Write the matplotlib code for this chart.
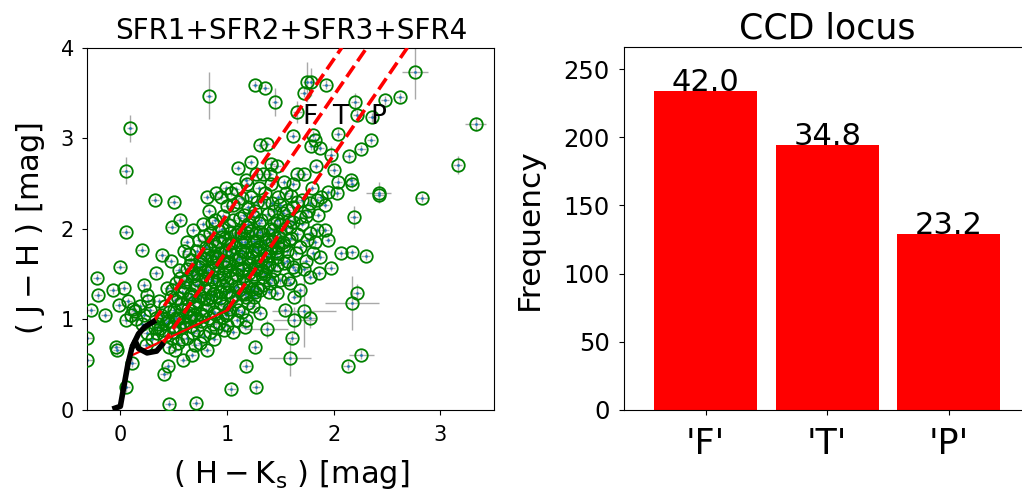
import matplotlib
matplotlib.use('Agg')
import matplotlib.pyplot as plt

plt.rcParams['mathtext.default'] = 'regular'

# ---------------- data: left panel (colour-colour diagram) ----------------
# isolated sources with individual errors
hk_sparse = [0.83, 0.09, 0.05, 1.26, 1.36, 1.45, 1.75, 1.79, 1.72, 1.93, 1.66, 2.76, 2.62, 2.48,
             2.20, 2.22, 2.36, 3.33, 3.16, 2.83, 2.42, 2.42, 2.04, 2.14, 2.26, 2.35, 1.97, 2.00,
             2.19, 2.16, 2.17, 2.04, 2.07, 2.17, 2.30, 1.97, 2.22, 2.17, 2.26, 2.13, 1.78, 1.72,
             1.63, 1.61, 1.59, 1.54, 1.37, 1.26, 1.27, 1.04, 1.18, 0.71, 0.46, 0.41, 0.45, 0.11,
             0.05, -0.03, -0.04, -0.31, -0.31, -0.275, -0.22, -0.21, -0.14, -0.07, 0.03, 0.00,
             0.05, -0.01, 0.05, 0.07, 0.20, 0.325, 0.50, 0.56, 0.48, 0.68, 0.39, 0.47, 0.33,
             0.22, 0.25, 0.14]
jh_sparse = [3.47, 3.11, 2.64, 3.59, 3.56, 3.40, 3.62, 3.62, 3.50, 3.59, 3.29, 3.73, 3.45, 3.42,
             3.40, 3.26, 3.23, 3.16, 2.70, 2.34, 2.40, 2.37, 3.05, 2.80, 2.88, 2.98, 2.81, 2.65,
             2.13, 2.54, 2.50, 2.52, 1.73, 1.74, 1.70, 1.57, 1.29, 1.18, 0.61, 0.49, 1.01, 1.09,
             0.99, 0.80, 0.57, 1.10, 0.89, 0.70, 0.25, 0.23, 0.49, 0.08, 0.07, 0.40, 0.48, 0.52,
             0.25, 0.66, 0.70, 0.55, 0.79, 1.10, 1.46, 1.27, 1.05, 1.32, 1.35, 1.58,
             1.97, 1.16, 0.99, 1.20, 1.77, 2.32, 2.30, 2.10, 2.02, 1.99, 1.71, 1.64, 1.51,
             1.38, 1.27, 1.09]
hk_err_sparse = [0.03, 0.03, 0.04, 0.03, 0.03, 0.03, 0.04, 0.04, 0.04, 0.04, 0.04, 0.12, 0.04, 0.04,
                 0.04, 0.04, 0.04, 0.10, 0.04, 0.06, 0.12, 0.05, 0.04, 0.04, 0.04, 0.04, 0.04, 0.04,
                 0.04, 0.04, 0.04, 0.04, 0.04, 0.04, 0.04, 0.04, 0.04, 0.25, 0.12, 0.04, 0.05, 0.30,
                 0.20, 0.05, 0.20, 0.04, 0.20, 0.04, 0.04, 0.04, 0.04, 0.04, 0.04, 0.04, 0.04, 0.04,
                 0.04, 0.04, 0.04, 0.05, 0.05, 0.04, 0.04, 0.04, 0.04, 0.04, 0.04, 0.04,
                 0.04, 0.04, 0.04, 0.04, 0.04, 0.04, 0.04, 0.04, 0.04, 0.04, 0.04, 0.04, 0.04,
                 0.04, 0.04, 0.04]
jh_err_sparse = [0.26, 0.15, 0.15, 0.04, 0.04, 0.15, 0.22, 0.15, 0.05, 0.05, 0.12, 0.30, 0.05, 0.05,
                 0.10, 0.05, 0.05, 0.08, 0.10, 0.04, 0.12, 0.05, 0.05, 0.05, 0.04, 0.04, 0.10, 0.05,
                 0.12, 0.05, 0.05, 0.05, 0.04, 0.04, 0.04, 0.04, 0.10, 0.30, 0.05, 0.05, 0.10, 0.40,
                 0.15, 0.05, 0.20, 0.05, 0.10, 0.05, 0.05, 0.05, 0.05, 0.04, 0.04, 0.05, 0.05, 0.05,
                 0.05, 0.05, 0.05, 0.04, 0.04, 0.04, 0.04, 0.04, 0.04, 0.04, 0.04, 0.04,
                 0.04, 0.04, 0.04, 0.04, 0.04, 0.04, 0.04, 0.04, 0.04, 0.04, 0.04, 0.04, 0.04,
                 0.04, 0.04, 0.04]

# sources in the main band
hk_band = [0.81, 0.90, 0.99, 1.08, 1.10, 1.22, 1.27, 1.18, 1.31, 1.37, 1.41, 1.40, 1.47, 1.53, 1.62,
           1.66, 1.81, 1.82, 1.79, 1.87, 1.83, 2.03, 1.95, 1.92, 1.84, 1.70, 1.62, 1.56, 1.47, 1.59,
           1.68, 1.84, 1.92, 1.75, 1.65, 1.81, 1.95, 1.87, 1.86, 1.78, 1.72, 1.62, 1.53, 1.47, 1.37,
           1.50, 1.59, 1.68, 1.47, 1.40, 1.34, 1.31, 1.25, 1.31, 1.18, 1.09, 1.17, 1.06, 0.97, 0.90,
           0.81, 0.75, 0.67, 0.59, 0.51, 0.34,
           0.35, 0.38, 0.40, 0.42, 0.45, 0.47, 0.48, 0.50, 0.44, 0.36, 0.52, 0.50,
           0.55, 0.57, 0.58, 0.60, 0.62, 0.63, 0.65, 0.66, 0.68, 0.70, 0.55, 0.60, 0.64, 0.58, 0.69, 0.62,
           0.72, 0.73, 0.75, 0.76, 0.78, 0.80, 0.80, 0.82, 0.84, 0.85, 0.86, 0.88, 0.89, 0.74, 0.77,
           0.83, 0.87, 0.71, 0.79, 0.90,
           0.92, 0.93, 0.95, 0.96, 0.97, 0.98, 1.00, 1.00, 1.02, 1.03, 1.05, 1.06, 1.07, 1.08, 1.10,
           1.10, 0.94, 0.99, 1.04, 0.91,
           1.12, 1.13, 1.15, 1.16, 1.17, 1.18, 1.20, 1.21, 1.22, 1.23, 1.25, 1.26, 1.27, 1.28, 1.30,
           1.30, 1.14, 1.19, 1.24, 1.29,
           1.32, 1.33, 1.35, 1.36, 1.38, 1.40, 1.41, 1.42, 1.44, 1.45, 1.47, 1.48, 1.50, 1.34, 1.39, 1.46,
           1.52, 1.55, 1.56, 1.58, 1.60, 1.62, 1.64, 1.66, 1.68, 1.70, 1.72, 1.74, 1.76, 1.78, 1.80,
           1.82, 1.85, 1.88, 1.57, 1.63,
           0.20, 0.22, 0.25, 0.28, 0.30, 0.32, 0.18, 0.15, 0.26, 0.33, 0.24, 0.12, 0.10,
           0.42, 0.50, 0.56, 0.62, 0.66, 0.72, 0.78, 0.84, 0.92, 1.00, 0.54, 0.46, 0.70, 0.88,
           0.40, 0.46, 0.52, 0.58, 0.64, 0.70, 0.76, 0.82, 0.88, 0.94, 1.02, 1.08, 1.14, 1.20,
           0.48, 0.54, 0.60, 0.66, 0.72, 0.78, 0.84, 0.90, 0.96, 1.02, 1.08, 1.14, 1.20, 1.26, 1.34,
           0.56, 0.62, 0.68, 0.74, 0.80, 0.86, 0.92, 0.98, 1.04, 1.10, 1.16, 1.22, 1.28, 1.36, 1.44,
           0.66, 0.72, 0.78, 0.84, 0.90, 0.96, 1.02, 1.08, 1.14, 1.20, 1.26, 1.32, 1.40, 1.48, 1.56,
           0.78, 0.86, 0.92, 0.98, 1.04, 1.10, 1.16, 1.22, 1.28, 1.34, 1.42, 1.50, 1.58, 1.66,
           0.86, 0.96, 1.02, 1.12, 1.18, 1.24, 1.30, 1.38, 1.44, 1.52, 1.62, 1.74,
           1.06, 1.14, 1.20, 1.28, 1.36, 1.42, 1.50, 1.60, 1.78,
           0.37, 0.43, 0.49, 0.53, 0.59, 0.65, 0.71, 0.77, 0.83, 0.89, 0.95, 1.01,
           0.51, 0.57, 0.63, 0.69, 0.75, 0.81, 0.87, 0.93, 0.99, 1.05, 1.11, 1.17, 1.23,
           0.61, 0.67, 0.73, 0.79, 0.85, 0.91, 0.97, 1.03, 1.09, 1.15, 1.21, 1.27, 1.33, 1.39,
           0.75, 0.81, 0.87, 0.93, 0.99, 1.05, 1.11, 1.17, 1.23, 1.29, 1.35, 1.41, 1.47, 1.53,
           0.89, 0.95, 1.01, 1.07, 1.13, 1.19, 1.25, 1.31, 1.37, 1.43, 1.49, 1.55]
jh_band = [2.35, 2.39, 2.45, 2.44, 2.67, 2.74, 2.61, 2.54, 2.92, 2.94, 2.72, 2.60, 2.69, 2.52, 3.03,
           2.61, 3.04, 2.98, 2.91, 2.89, 2.69, 2.39, 2.41, 2.26, 2.32, 2.32, 2.24, 2.21, 2.10, 2.02,
           2.13, 1.99, 1.99, 1.88, 1.73, 1.73, 1.88, 1.69, 1.51, 1.47, 1.56, 1.58, 1.62, 1.69, 1.58,
           1.43, 1.40, 1.32, 1.29, 1.40, 1.47, 1.32, 1.25, 1.07, 0.99, 0.99, 0.92, 0.86, 0.88, 0.90,
           0.66, 0.74, 0.61, 0.55, 0.66, 0.85,
           0.95, 1.05, 0.88, 1.15, 0.98, 1.25, 0.80, 1.10, 1.35, 1.20, 1.40, 0.92,
           1.02, 1.18, 1.30, 0.95, 1.45, 1.12, 1.60, 1.25, 0.85, 1.38, 1.55, 1.75, 1.72, 0.78, 1.05, 1.85,
           1.50, 1.20, 1.65, 0.98, 1.35, 1.80, 1.10, 1.55, 1.95, 1.25, 1.70, 1.42, 2.10, 1.88, 2.05,
           2.20, 0.95, 1.02, 1.45, 1.60,
           1.85, 1.30, 2.00, 1.50, 1.15, 1.75, 2.25, 1.40, 1.62, 1.95, 1.25, 2.10, 1.80, 1.50, 2.30,
           1.10, 2.35, 1.05, 2.40, 1.68,
           1.70, 1.95, 1.40, 2.15, 1.85, 1.25, 2.05, 1.60, 2.35, 1.75, 1.50, 2.20, 1.95, 1.35, 2.45,
           1.80, 1.55, 2.50, 1.15, 1.65,
           2.10, 1.55, 2.30, 1.85, 1.70, 2.00, 2.50, 1.45, 2.20, 1.90, 1.60, 2.35, 2.05, 2.60, 1.30, 1.75,
           1.85, 2.40, 1.65, 2.10, 1.90, 2.50, 1.55, 2.30, 1.80, 2.05, 2.60, 1.65, 2.20, 1.95, 2.45,
           1.85, 2.15, 2.35, 1.45, 1.25,
           0.95, 1.05, 0.85, 1.10, 0.78, 0.90, 1.15, 1.00, 1.20, 1.02, 0.72, 1.12, 1.05,
           0.82, 0.86, 0.90, 0.80, 0.93, 0.88, 0.82, 0.86, 0.96, 0.94, 0.74, 0.70, 0.72, 0.78,
           1.00, 1.08, 1.02, 1.10, 1.04, 1.14, 1.06, 1.16, 1.08, 1.18, 1.12, 1.20, 1.08, 1.18,
           1.32, 1.24, 1.36, 1.28, 1.38, 1.24, 1.34, 1.26, 1.38, 1.30, 1.36, 1.28, 1.36, 1.30, 1.38,
           1.46, 1.56, 1.48, 1.58, 1.46, 1.54, 1.44, 1.58, 1.46, 1.56, 1.48, 1.44, 1.56, 1.50, 1.54,
           1.66, 1.76, 1.68, 1.78, 1.70, 1.64, 1.76, 1.66, 1.76, 1.68, 1.78, 1.66, 1.76, 1.80, 1.76,
           1.92, 1.86, 1.98, 1.90, 1.84, 1.96, 1.90, 1.98, 1.86, 1.94, 1.86, 1.96, 1.88, 1.94,
           2.06, 2.14, 2.04, 2.12, 2.02, 2.14, 2.06, 2.16, 2.06, 2.18, 2.08, 2.14,
           2.26, 2.34, 2.24, 2.30, 2.40, 2.28, 2.26, 2.36, 2.28,
           0.90, 0.96, 0.92, 1.00, 0.97, 1.03, 0.99, 1.04, 1.01, 1.06, 1.03, 1.07,
           1.21, 1.17, 1.23, 1.19, 1.26, 1.22, 1.28, 1.24, 1.30, 1.26, 1.32, 1.28, 1.34,
           1.41, 1.51, 1.43, 1.53, 1.45, 1.52, 1.47, 1.55, 1.49, 1.57, 1.51, 1.59, 1.53, 1.61,
           1.61, 1.71, 1.63, 1.73, 1.65, 1.72, 1.67, 1.74, 1.69, 1.77, 1.71, 1.79, 1.73, 1.82,
           1.81, 1.91, 1.83, 1.93, 1.85, 1.95, 1.87, 1.97, 1.89, 1.99, 1.91, 2.01]
band_err = 0.035

# intrinsic loci
dwarf_hk = [-0.05, 0.00, 0.03, 0.07, 0.107, 0.14, 0.17, 0.25, 0.34, 0.39]
dwarf_jh = [0.02, 0.04, 0.24, 0.50, 0.68, 0.76, 0.68, 0.63, 0.65, 0.72]
giant_hk = [0.12, 0.17, 0.23, 0.31]
giant_jh = [0.72, 0.84, 0.92, 0.975]
ctts_hk = [0.12, 1.00]
ctts_jh = [0.61, 1.10]
# reddening vectors: start and end points
redF_hk, redF_jh = [0.31, 2.075], [0.975, 4.0]
redT_hk, redT_jh = [0.39, 2.31], [0.72, 4.0]
redP_hk, redP_jh = [1.00, 2.69], [1.10, 4.0]
region_labels = ['F', 'T', 'P']
region_label_hk = [1.78, 2.06, 2.42]
region_label_jh = [3.24, 3.24, 3.24]

# ---------------- data: right panel ----------------
loci = ["'F'", "'T'", "'P'"]
counts = [234, 194, 129]

# ---------------- figure ----------------
fig = plt.figure(figsize=(10.22, 4.97), dpi=100)
ax1 = fig.add_axes([0.0854, 0.1751, 0.3983, 0.729])
ax2 = fig.add_axes([0.6109, 0.1751, 0.397, 0.7297])

for xs, ys, xe, ye in [(hk_sparse, jh_sparse, hk_err_sparse, jh_err_sparse),
                       (hk_band, jh_band, band_err, band_err)]:
    ax1.errorbar(xs, ys, xerr=xe, yerr=ye, fmt='.', ms=2, color='C0',
                 ecolor='darkgray', elinewidth=1, capsize=0, zorder=2)
    ax1.plot(xs, ys, 'o', mfc='none', mec='green', ms=9, mew=1.3, zorder=3)

ax1.plot(ctts_hk, ctts_jh, '-', color='red', lw=1.6, zorder=4)
for hx, jy in [(redF_hk, redF_jh), (redT_hk, redT_jh), (redP_hk, redP_jh)]:
    ax1.plot(hx, jy, '--', color='red', lw=2.6, zorder=4)
ax1.plot(dwarf_hk, dwarf_jh, '-', color='black', lw=4, zorder=5)
ax1.plot(giant_hk, giant_jh, '-', color='black', lw=4, zorder=5)
for lab, hx, jy in zip(region_labels, region_label_hk, region_label_jh):
    ax1.text(hx, jy, lab, fontsize=19, ha='center', va='center', zorder=6)

ax1.set_xlim(-0.31, 3.505)
ax1.set_ylim(0, 4)
ax1.set_xticks([0, 1, 2, 3])
ax1.set_yticks([0, 1, 2, 3, 4])
ax1.tick_params(labelsize=15)
ax1.tick_params(axis='x', pad=7)
ax1.tick_params(axis='y', pad=6)
ax1.set_xlabel('( $H-K_s$ ) [mag]', fontsize=22, labelpad=10)
ax1.set_ylabel('( $J-H$ ) [mag]', fontsize=22, labelpad=10)
ax1.set_title('SFR1+SFR2+SFR3+SFR4', fontsize=20)

pos = list(range(len(loci)))
ax2.bar(pos, counts, width=0.85, color='red')
total = sum(counts)
for p, c in zip(pos, counts):
    ax2.text(p, c, f'{100 * c / total:.1f}', ha='center', va='baseline', fontsize=22)
ax2.set_xlim(-0.67, 2.67)
ax2.set_ylim(0, 266)
ax2.set_xticks(pos)
ax2.set_xticklabels(loci, fontsize=25)
ax2.set_yticks([0, 50, 100, 150, 200, 250])
ax2.tick_params(axis='y', labelsize=17.5, pad=7)
ax2.tick_params(axis='x', pad=9)
ax2.set_ylabel('Frequency', fontsize=22.5, labelpad=14)
ax2.set_title('CCD locus', fontsize=25)

fig.savefig('out.png', dpi=100)
